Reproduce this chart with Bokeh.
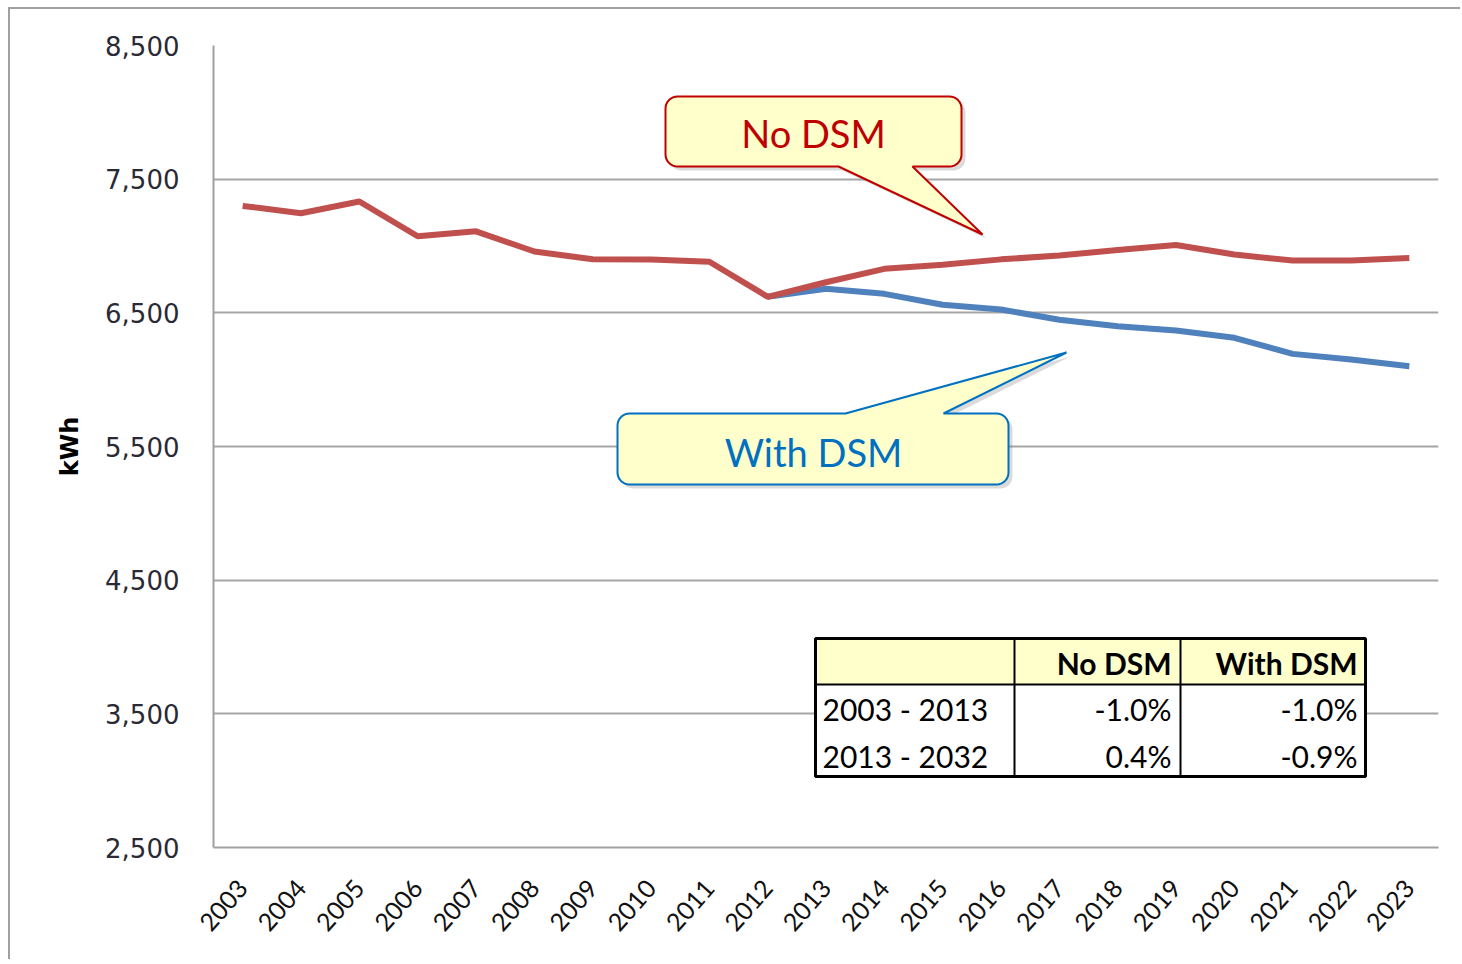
import math
from bokeh.plotting import figure
from bokeh.models import Range1d, FixedTicker
from bokeh.core.properties import value
from bokeh.embed import file_html
from bokeh.resources import INLINE

# ---------------- data ----------------
years = list(range(2003, 2024))
year_labels = [str(y) for y in years]
no_dsm = [7300, 7245, 7333, 7073, 7110, 6959, 6901, 6899, 6882, 6620,
          6729, 6829, 6859, 6900, 6929, 6970, 7008, 6936, 6891, 6891, 6911]
dsm_years = list(range(2012, 2024))
with_dsm = [6620, 6680, 6642, 6560, 6525, 6448, 6400, 6368, 6313, 6193, 6151, 6101]
y_ticks = [2500, 3500, 4500, 5500, 6500, 7500, 8500]

table_cols = ["No DSM", "With DSM"]
table_periods = ["2003 - 2013", "2013 - 2032"]
table_no_dsm = ["-1.0%", "0.4%"]
table_with_dsm = ["-1.0%", "-0.9%"]

callout_labels = ["No DSM", "With DSM"]

# ---------------- layout (page pixels) ----------------
FL, FR, FT, FB = 213, 1438, 45, 847
X0, X1 = 2002.5, 2023.5
Y0, Y1 = 2500, 8500
OFFX, OFFY = 10, 9  # canvas origin on page


def dx(px):
    return X0 + (px - FL) * (X1 - X0) / (FR - FL)


def dy(py):
    return Y0 + (FB - py) * (Y1 - Y0) / (FB - FT)


p = figure(frame_width=FR - FL, frame_height=FB - FT,
           min_border_left=FL - OFFX, min_border_top=FT - OFFY,
           min_border_right=22, min_border_bottom=112,
           x_range=Range1d(X0, X1), y_range=Range1d(Y0, Y1),
           output_backend="svg", toolbar_location=None,
           background_fill_color="white", border_fill_color="white")
p.styles = {"border-left": "2px solid #A0A0A0", "border-top": "2px solid #A0A0A0",
            "margin-left": "8px", "margin-top": "7px"}
p.outline_line_color = None

# axes
p.xaxis.ticker = FixedTicker(ticks=years)
p.xaxis.major_label_overrides = {y: s for y, s in zip(years, year_labels)}
p.xaxis.major_label_orientation = 0.85
p.xaxis.major_label_text_font = "Lato"
p.xaxis.major_label_text_font_size = "25px"
p.xaxis.major_label_text_color = "#111111"
p.xaxis.major_tick_line_color = None
p.xaxis.minor_tick_line_color = None
p.xaxis.axis_line_color = "#A0A0A0"
p.xaxis.axis_line_width = 2
p.xaxis.major_label_standoff = 30

p.yaxis.ticker = FixedTicker(ticks=y_ticks)
p.yaxis.major_label_overrides = {t: f"{t:,}" for t in y_ticks}
p.yaxis.major_label_text_font = "DejaVu Sans"
p.yaxis.major_label_text_font_size = "26px"
p.yaxis.major_label_text_color = "#2A2A35"
p.yaxis.major_tick_line_color = None
p.yaxis.minor_tick_line_color = None
p.yaxis.axis_line_color = "#A0A0A0"
p.yaxis.axis_line_width = 2
p.yaxis.major_label_standoff = 28
p.yaxis.axis_label = "kWh"
p.yaxis.axis_label_text_font = "DejaVu Sans"
p.yaxis.axis_label_text_font_style = "bold"
p.yaxis.axis_label_text_font_size = "24px"
p.yaxis.axis_label_text_color = "black"
p.yaxis.axis_label_standoff = 18

p.xgrid.grid_line_color = None
p.ygrid.grid_line_color = "#A6A6A6"
p.ygrid.grid_line_width = 2

# lines
p.line(dsm_years, with_dsm, line_color="#4F81BD", line_width=6, line_join="round")
p.line(years, no_dsm, line_color="#C0504D", line_width=6, line_join="round")


# ---------------- callouts ----------------
def callout(x0, y0, x1, y1, r, pointer, side):
    pts = []

    def arc(cx, cy, a0, a1, n=8):
        for i in range(n + 1):
            a = a0 + (a1 - a0) * i / n
            pts.append((cx + r * math.cos(a), cy + r * math.sin(a)))

    arc(x0 + r, y0 + r, math.pi, 1.5 * math.pi)
    if side == "top":
        pts.extend(pointer)
    arc(x1 - r, y0 + r, 1.5 * math.pi, 2 * math.pi)
    arc(x1 - r, y1 - r, 0, 0.5 * math.pi)
    if side == "bottom":
        pts.extend(pointer)
    arc(x0 + r, y1 - r, 0.5 * math.pi, math.pi)
    return pts


def draw_callout(pts, line_color):
    sx = [dx(x + 4) for x, _ in pts]
    sy = [dy(y + 4) for _, y in pts]
    p.patch(sx, sy, fill_color="#7F7F7F", fill_alpha=0.28, line_color=None)
    xs = [dx(x) for x, _ in pts]
    ys = [dy(y) for _, y in pts]
    p.patch(xs, ys, fill_color="#FFFFCC", line_color=line_color, line_width=2)


red_pts = callout(665, 96, 961, 166, 12, [(912, 166), (982, 234), (838, 166)], "bottom")
blue_pts = callout(617, 413, 1008, 484, 12, [(845, 413), (1066, 352), (943, 413)], "top")
draw_callout(red_pts, "#C00000")
draw_callout(blue_pts, "#0070C0")

p.text([dx(813)], [dy(132)], text=[callout_labels[0]], text_align="center",
       text_baseline="middle", text_font=value("Lato"), text_font_size="38px",
       text_color="#C00000")
p.text([dx(813)], [dy(451)], text=[callout_labels[1]], text_align="center",
       text_baseline="middle", text_font=value("Lato"), text_font_size="38px",
       text_color="#0070C0")

# ---------------- table ----------------
TL, TR, TT, TB = 815, 1365, 638, 776
TH = 684
C1, C2 = 1014, 1180
p.quad(left=[dx(TL)], right=[dx(TR)], top=[dy(TT)], bottom=[dy(TB)],
       fill_color="white", line_color=None)
p.quad(left=[dx(TL)], right=[dx(TR)], top=[dy(TT)], bottom=[dy(TH)],
       fill_color="#FFFFCC", line_color=None)
p.segment(x0=[dx(C1), dx(C2), dx(TL)], y0=[dy(TT), dy(TT), dy(TH)],
          x1=[dx(C1), dx(C2), dx(TR)], y1=[dy(TB), dy(TB), dy(TH)],
          line_color="black", line_width=2)
p.quad(left=[dx(TL)], right=[dx(TR)], top=[dy(TT)], bottom=[dy(TB)],
       fill_color=None, line_color="black", line_width=3)

row_y = [dy(708), dy(755)]
p.text([dx(1171), dx(1357)], [dy(662), dy(662)], text=table_cols,
       text_align="right", text_baseline="middle", text_font=value("Lato"),
       text_font_size="30px", text_font_style="bold", text_color="black")
p.text([dx(822)] * 2, row_y, text=table_periods, text_align="left",
       text_baseline="middle", text_font=value("Lato"), text_font_size="30px",
       text_color="black")
p.text([dx(1171)] * 2, row_y, text=table_no_dsm, text_align="right",
       text_baseline="middle", text_font=value("Lato"), text_font_size="30px",
       text_color="black")
p.text([dx(1357)] * 2, row_y, text=table_with_dsm, text_align="right",
       text_baseline="middle", text_font=value("Lato"), text_font_size="30px",
       text_color="black")

open("out.html", "w").write(file_html(p, INLINE))
